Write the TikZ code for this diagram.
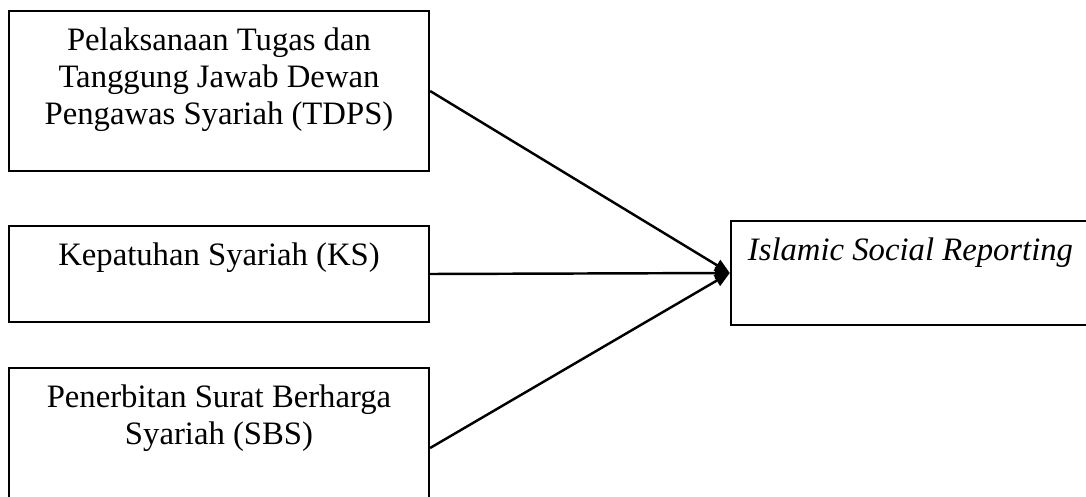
\documentclass[tikz,border=0pt]{standalone}
\usepackage{fontspec}
\setmainfont{Liberation Serif}
\usetikzlibrary{arrows.meta}

\tikzstyle{var} = [
    rectangle,
    draw,
    line width=0.85pt,
    inner sep=0pt,
    font=\fontsize{12}{13.6}\selectfont
    ]

% box text sits at the top of the box
\newcommand{\toptext}[3]{\parbox[c][#2][t]{#1}{\centering\vspace*{6.3pt}#3}}

\begin{document}
\begin{tikzpicture}[x=0.367pt, y=-0.367pt]
        \useasboundingbox (0,0) rectangle (1086,497);

        \node (tdps) [var] at (219,91) {\toptext{154.1pt}{58.7pt}{Pelaksanaan Tugas dan\\ Tanggung Jawab Dewan\\ Pengawas Syariah (TDPS)}};

        \node (ks) [var] at (219,274) {\toptext{154.1pt}{35.2pt}{Kepatuhan Syariah (KS)}};

        \node (sbs) [var] at (219,448) {\toptext{154.1pt}{58.7pt}{Penerbitan Surat Berharga\\ Syariah (SBS)}};

        \node (isr) [var] at (910.5,273) {\toptext{131.8pt}{38.2pt}{\itshape Islamic Social Reporting}};

        % Lines
        \draw[-{Triangle[length=5.5pt,width=4.5pt]}, line width=0.9pt] (tdps.east) -- (isr.west);
        \draw[-{Triangle[length=5.5pt,width=4.5pt]}, line width=0.9pt] (ks.east) -- (isr.west);
        \draw[-{Triangle[length=5.5pt,width=4.5pt]}, line width=0.9pt] (sbs.east) -- (isr.west);

    \end{tikzpicture}
\end{document}
